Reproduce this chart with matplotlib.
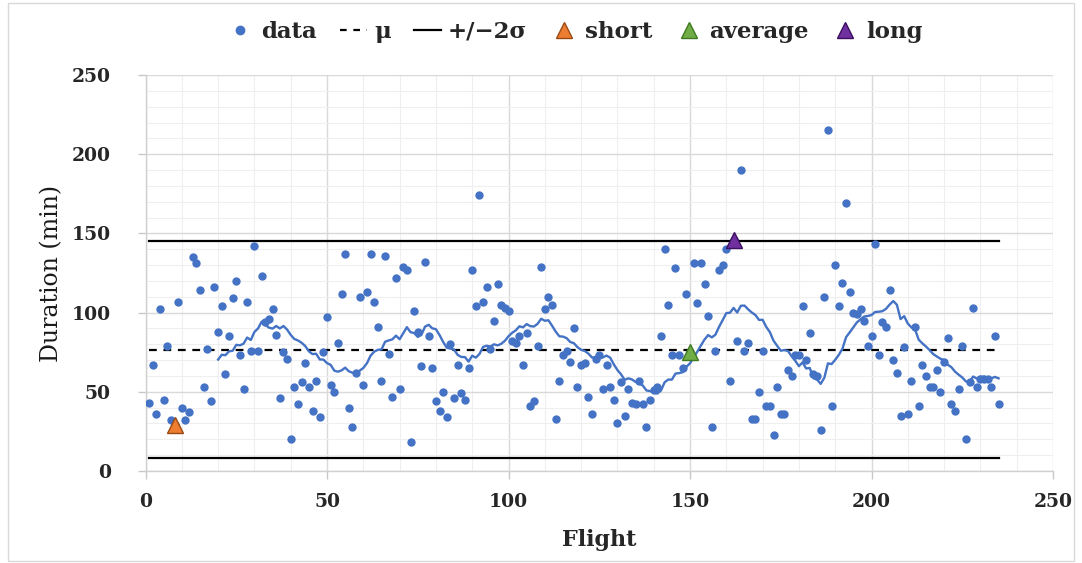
import numpy as np
import pandas as pd
import matplotlib
matplotlib.use("Agg")
import matplotlib.pyplot as plt
from matplotlib.lines import Line2D
from matplotlib.patches import Rectangle
from matplotlib.ticker import MultipleLocator

plt.rcParams['font.family'] = ['DejaVu Serif']

# ---- data -------------------------------------------------------------
durations = [
    43, 67, 36, 102, 45, 79, 32, 29, 107, 40,
    32, 37, 135, 131, 114, 53, 77, 44, 116, 88,
    104, 61, 85, 109, 120, 73, 52, 107, 76, 142,
    76, 123, 94, 96, 102, 86, 46, 75, 71, 20,
    53, 42, 56, 68, 53, 38, 57, 34, 75, 97,
    54, 50, 81, 112, 137, 40, 28, 62, 110, 54,
    113, 137, 107, 91, 57, 136, 74, 47, 122, 52,
    129, 127, 18, 101, 88, 66, 132, 85, 65, 44,
    38, 50, 34, 80, 46, 67, 49, 45, 65, 127,
    104, 174, 107, 116, 77, 95, 118, 105, 103, 101,
    82, 81, 85, 67, 87, 41, 44, 79, 129, 102,
    110, 105, 33, 57, 73, 76, 69, 90, 53, 67,
    68, 47, 36, 71, 73, 52, 67, 53, 45, 30,
    56, 35, 52, 43, 42, 57, 42, 28, 45, 51,
    53, 85, 140, 105, 73, 128, 73, 65, 112, 75,
    131, 106, 131, 118, 98, 28, 76, 127, 130, 140,
    57, 146, 82, 190, 76, 81, 33, 33, 50, 76,
    41, 41, 23, 53, 36, 36, 64, 60, 73, 73,
    104, 70, 87, 61, 60, 26, 110, 215, 41, 130,
    104, 119, 169, 113, 100, 99, 102, 95, 79, 85,
    143, 73, 94, 91, 114, 70, 62, 35, 78, 36,
    57, 91, 41, 67, 60, 53, 53, 64, 50, 69,
    84, 42, 38, 52, 79, 20, 56, 103, 53, 58,
    58, 58, 53, 85, 42,
]
flights = list(range(1, len(durations) + 1))

mu = 76.7
two_sigma = 68.5
ma_period = 20

highlight_labels = ["short", "average", "long"]
highlight_flights = [8, 150, 162]
highlight_values = [29, 75, 146]
highlight_colors = ["#ED7D31", "#70AD47", "#7030A0"]
highlight_edges = ["#9C4A14", "#3F7A22", "#3B1060"]

# ---- figure -----------------------------------------------------------
fig = plt.figure(figsize=(10.82, 5.63), dpi=100)
ax = fig.add_axes([0.1345, 0.1634, 0.9732 - 0.1345, 0.8668 - 0.1634])

blue = "#4472C4"
txt = '#262626'

ax.set_xlim(0, 250)
ax.set_ylim(0, 250)
ax.xaxis.set_major_locator(MultipleLocator(50))
ax.yaxis.set_major_locator(MultipleLocator(50))
ax.xaxis.set_minor_locator(MultipleLocator(10))
ax.yaxis.set_minor_locator(MultipleLocator(10))
ax.grid(True, which='major', color='#d9d9d9', lw=1.0, zorder=0)
ax.grid(True, which='minor', color='#efefef', lw=0.8, zorder=0)
ax.set_axisbelow(True)

for s in ['top', 'right']:
    ax.spines[s].set_visible(False)
for s in ['left', 'bottom']:
    ax.spines[s].set_color('#d0d0d0')
    ax.spines[s].set_linewidth(1.0)

ax.tick_params(which='major', length=6, color='#c8c8c8', width=1.0,
               labelsize=13.5)
ax.tick_params(axis='y', which='major', pad=19)
ax.tick_params(axis='x', which='major', pad=10)
ax.tick_params(which='minor', length=0)
for lbl in ax.get_xticklabels() + ax.get_yticklabels():
    lbl.set_fontweight('bold')
    lbl.set_color(txt)

x0, x1 = flights[0], flights[-1]
ax.scatter(flights, durations, s=36, color=blue, zorder=3, linewidths=0)
ax.plot([x0, x1], [mu, mu], color='black', lw=1.6, ls=(0, (3.5, 3)), zorder=2)
ax.plot([x0, x1], [mu + two_sigma] * 2, color='black', lw=1.6, zorder=2)
ax.plot([x0, x1], [mu - two_sigma] * 2, color='black', lw=1.6, zorder=2)

ma = pd.Series(durations, index=flights).rolling(ma_period).mean()
ax.plot(ma.index, ma.values, color=blue, lw=1.7, zorder=3)

for lab, fx, fy, c, ec in zip(highlight_labels, highlight_flights,
                              highlight_values, highlight_colors, highlight_edges):
    ax.plot([fx], [fy], marker='^', ms=12, color=c, mec=ec, mew=1.0,
            ls='none', zorder=4)

ax.set_xlabel("Flight", fontsize=16, fontweight='bold', color=txt, labelpad=13)
ax.set_ylabel("Duration (min)", fontsize=17, color='#1a1a1a', labelpad=6)

# legend
handles = [
    Line2D([], [], marker='o', ms=6, color=blue, ls='none'),
    Line2D([], [], color='black', lw=1.6, ls=(0, (3, 3))),
    Line2D([], [], color='black', lw=1.6),
]
labels = ["data", "μ", "+/−2σ"]
for lab, c, ec in zip(highlight_labels, highlight_colors, highlight_edges):
    handles.append(Line2D([], [], marker='^', ms=12, color=c, mec=ec, mew=1.0, ls='none'))
    labels.append(lab)
leg = fig.legend(handles, labels, loc='center', bbox_to_anchor=(0.531, 0.944),
                 ncol=6, frameon=False, handlelength=1.2, handletextpad=0.3,
                 columnspacing=1.0, prop={'size': 16.5, 'weight': 'bold'})
for t in leg.get_texts():
    t.set_color(txt)

# outer chart border
fig.patches.append(Rectangle((0.007, 0.004), 0.986, 0.99, transform=fig.transFigure,
                             fill=False, ec='#d9d9d9', lw=1.0))

fig.savefig("out.png", dpi=100)
